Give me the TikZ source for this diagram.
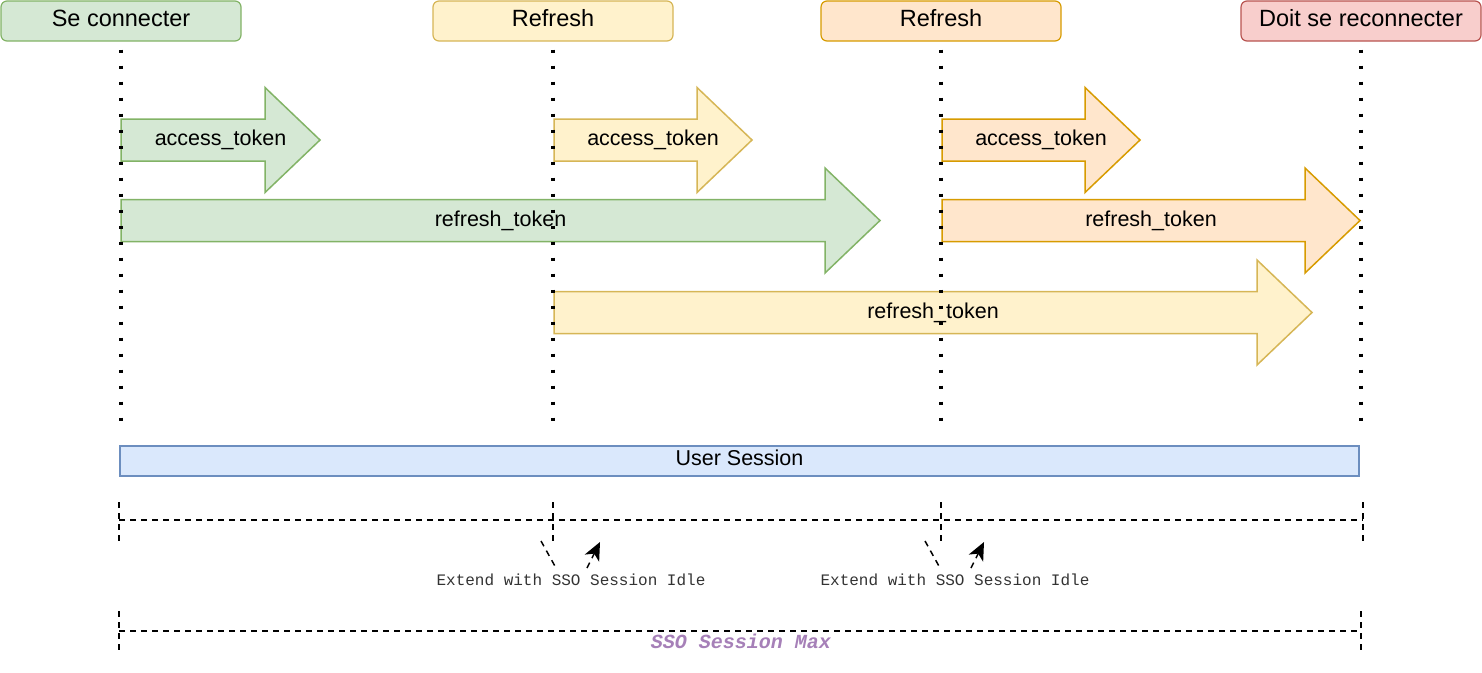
\documentclass[tikz,border=0pt]{standalone}
\usepackage{fontspec}
\setmainfont{Liberation Sans}
\setmonofont{Liberation Mono}
\usetikzlibrary{arrows.meta}
\definecolor{grnF}{HTML}{D5E8D4}\definecolor{grnD}{HTML}{82B366}
\definecolor{ylwF}{HTML}{FFF2CC}\definecolor{ylwD}{HTML}{D6B656}
\definecolor{orgF}{HTML}{FFE6CC}\definecolor{orgD}{HTML}{D79B00}
\definecolor{redF}{HTML}{F8CECC}\definecolor{redD}{HTML}{B85450}
\definecolor{bluF}{HTML}{DAE8FC}\definecolor{bluD}{HTML}{6C8EBF}
\definecolor{maxC}{HTML}{A680B8}
\definecolor{idleC}{HTML}{333333}
\newcommand{\tokarrow}[6]{%
  \draw[#1] (#2,#4-21) -- (#3-55,#4-21) -- (#3-55,#4-52.5) -- (#3,#4)
    -- (#3-55,#4+52.5) -- (#3-55,#4+21) -- (#2,#4+21) -- cycle;
  \node[toklabel] (#5) at ({(#2+#3)/2},#4) {#6};
}
\begin{document}
\begin{tikzpicture}[x=1pt,y=-1pt,
    header/.style={draw,line width=1.2pt,rounded corners=6pt,minimum width=240pt,
      minimum height=40pt,inner sep=0pt,text height=17pt,text depth=7pt,
      font=\fontsize{23.5}{26}\selectfont},
    toklabel/.style={inner sep=0pt,text height=15.5pt,text depth=4.5pt,
      font=\fontsize{21.5}{24}\selectfont},
    lifeline/.style={line width=3.5pt,dash pattern=on 3.5pt off 12.5pt,shorten <=8pt},
    span/.style={line width=1.5pt,dash pattern=on 6pt off 5pt},
    idle/.style={text=idleC,inner sep=0pt,font=\ttfamily\fontsize{16}{18}\selectfont}]
  \useasboundingbox (0,0) rectangle (1482,672);
  \node[header,fill=grnF,draw=grnD] (login) at (121,21) {Se connecter};
  \node[header,fill=ylwF,draw=ylwD] (refA) at (553,21) {Refresh};
  \node[header,fill=orgF,draw=orgD] (refB) at (941,21) {Refresh};
  \node[header,fill=redF,draw=redD] (relog) at (1361,21) {Doit se reconnecter};
  \tokarrow{fill=grnF,draw=grnD,line width=1.5pt}{121}{320}{140}{accA}{access\_token}
  \tokarrow{fill=grnF,draw=grnD,line width=1.5pt}{121}{880}{220.5}{rtA}{refresh\_token}
  \tokarrow{fill=ylwF,draw=ylwD,line width=1.5pt}{554}{752}{140}{accB}{access\_token}
  \tokarrow{fill=ylwF,draw=ylwD,line width=1.5pt}{554}{1312}{312.5}{rtB}{refresh\_token}
  \tokarrow{fill=orgF,draw=orgD,line width=1.5pt}{942}{1140}{140}{accC}{access\_token}
  \tokarrow{fill=orgF,draw=orgD,line width=1.5pt}{942}{1360}{220.5}{rtC}{refresh\_token}
  \coordinate (endA) at (121,421);
  \coordinate (endB) at (553,421);
  \coordinate (endC) at (941,421);
  \coordinate (endD) at (1361,421);
  \draw[lifeline] (login.south) -- (endA);
  \draw[lifeline] (refA.south) -- (endB);
  \draw[lifeline] (refB.south) -- (endC);
  \draw[lifeline] (relog.south) -- (endD);
  \node[draw=bluD,fill=bluF,line width=1.2pt,minimum width=1239pt,minimum height=30pt,
    inner sep=0pt,text height=15.5pt,text depth=6pt,font=\fontsize{21.5}{24}\selectfont]
    (usess) at (739.5,461) {User Session};
  \coordinate (idleL) at (119,520);
  \coordinate (idleR) at (1363,520);
  \draw[span] (idleL) -- (idleR);
  \foreach \x in {119,553,941,1363}
    \draw[span] (\x,502) -- (\x,541);
  \node[idle] (extA) at (571,580) {Extend with SSO Session Idle};
  \node[idle] (extB) at (955,580) {Extend with SSO Session Idle};
  \foreach \dx/\nm in {0/A,384/B} {
    \coordinate (in\nm) at (541+\dx,541);
    \coordinate (mid\nm) at (556+\dx,568);
    \coordinate (up\nm) at (587+\dx,568);
    \coordinate (tip\nm) at (600+\dx,542);
    \draw[span] (in\nm) -- (mid\nm);
    \draw[span,-{Stealth[length=18pt,width=16pt,inset=5pt]}] (up\nm) -- (tip\nm);
  }
  \coordinate (maxL) at (119,631);
  \coordinate (maxR) at (1361,631);
  \draw[span] (maxL) -- (maxR);
  \draw[span] (119,611) -- (119,651);
  \draw[span] (1361,611) -- (1361,651);
  \node[inner sep=0pt,text=maxC,font=\ttfamily\bfseries\itshape\fontsize{20}{22}\selectfont]
    (ssomax) at (741,641) {SSO Session Max};
\end{tikzpicture}
\end{document}
